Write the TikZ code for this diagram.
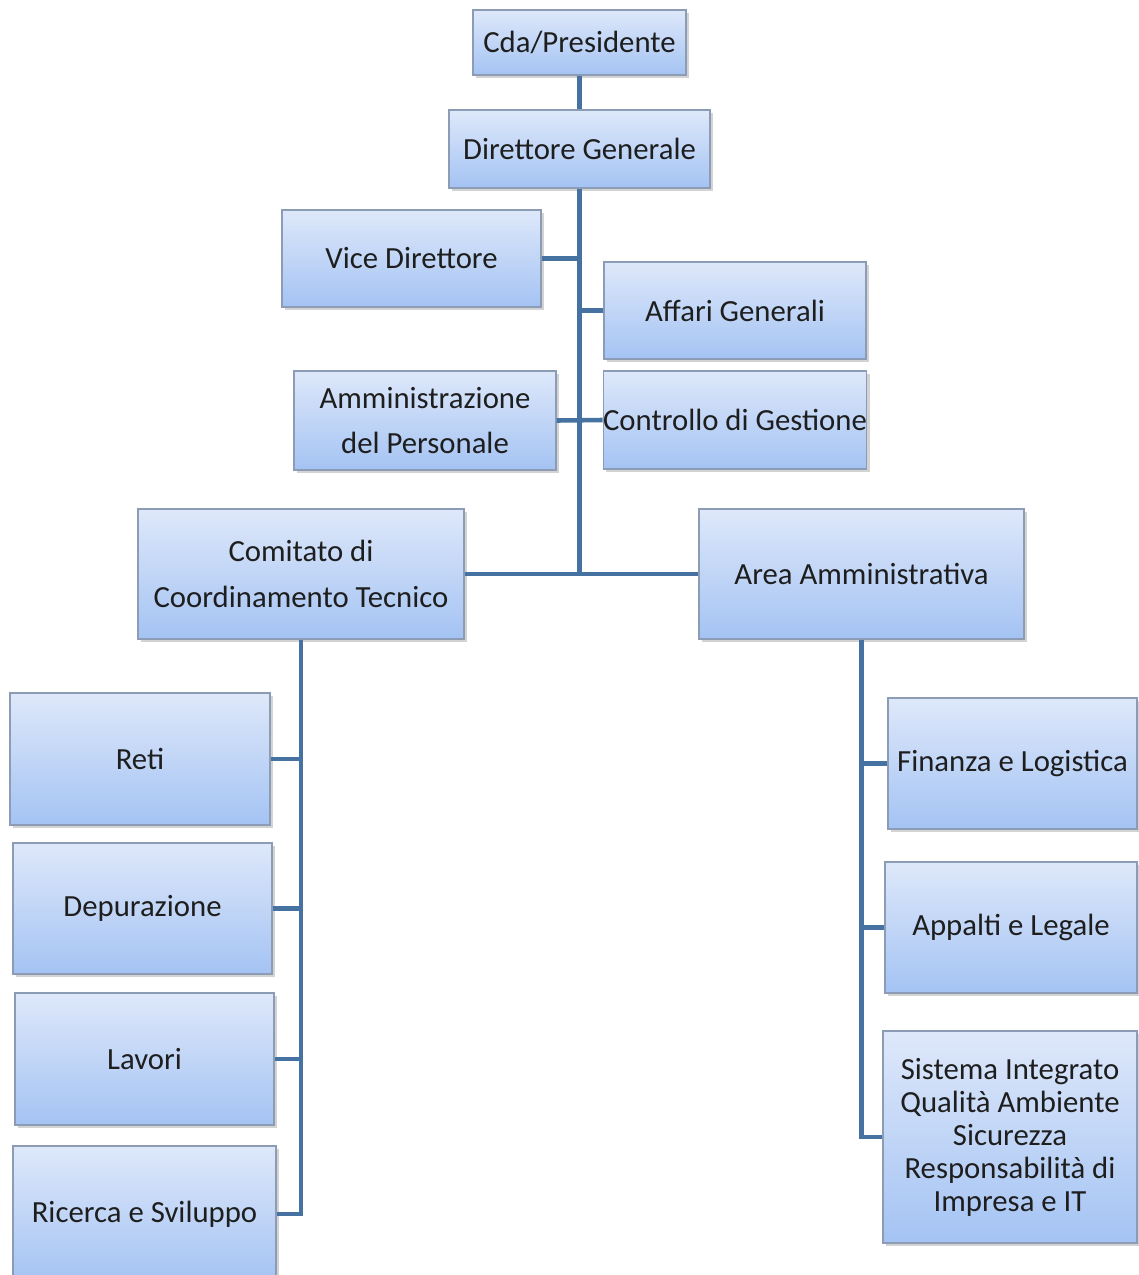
\documentclass[tikz,border=0pt]{standalone}
\usepackage{fontspec}
\setmainfont{Carlito}
\usetikzlibrary{shadows}
\definecolor{boxtop}{RGB}{222,232,250}
\definecolor{boxbot}{RGB}{164,195,243}
\definecolor{boxborder}{RGB}{140,156,180}
\definecolor{conncol}{RGB}{70,114,162}
\definecolor{textcol}{RGB}{30,30,30}
\tikzset{
  orgbox/.style={draw=boxborder, line width=0.6pt, top color=boxtop, bottom color=boxbot,
    drop shadow={shadow xshift=1.5pt, shadow yshift=-1.5pt, opacity=0.35},
    text=textcol, align=center, inner sep=0pt,
    font=\fontsize{17.5}{18.8}\selectfont},
  conn/.style={draw=conncol, line width=2.6pt, line join=miter}
}
\newcommand\obox[6]{\node[orgbox, minimum width={(#4-#2)*0.02cm}, minimum height={(#5-#3)*0.02cm}] (#1) at ({(#2+#4)/2},{(#3+#5)/2}) {#6};}
\begin{document}
\begin{tikzpicture}[x=0.02cm, y=-0.02cm]
\useasboundingbox (0,0) rectangle (1139,1275);
\obox{cda}{473}{10}{686}{75}{Cda/Presidente}
\obox{dg}{449}{110}{710}{188}{Direttore Generale}
\obox{vd}{282}{210}{541}{307}{Vice Direttore}
\obox{ag}{604}{262}{866}{359}{Affari Generali}
\obox{ap}{294}{371}{556}{470}{Amministrazione\\[6.5pt]del Personale}
\obox{cg}{604}{371}{866}{469}{Controllo di Gestione}
\obox{cct}{138}{509}{464}{639}{Comitato di\\[7pt]Coordinamento Tecnico}
\obox{ara}{699}{509}{1024}{639}{Area Amministrativa}
\obox{reti}{10}{693}{270}{825}{Reti}
\obox{dep}{13}{843}{272}{974}{Depurazione}
\obox{lav}{15}{993}{274}{1125}{Lavori}
\obox{rs}{13}{1146}{276}{1282}{Ricerca e Sviluppo}
\obox{fin}{888}{698}{1137}{829}{Finanza e Logistica}
\obox{app}{885}{862}{1137}{993}{Appalti e Legale}
\obox{sis}{883}{1031}{1137}{1243}{Sistema Integrato\\Qualità Ambiente\\Sicurezza\\Responsabilità di\\Impresa e IT}
% connectors
\draw[conn] (cda.south) -- (dg.north);
\draw[conn] (dg.south) -- (dg.south |- cct.east);
\draw[conn] (cct.east) -- (ara.west);
\draw[conn] (vd.east) -- (vd.east -| dg.south);
\draw[conn] (ag.west) -- (ag.west -| dg.south);
\draw[conn] (ap.east) -- (cg.west);
\draw[conn] (cct.south) -- (cct.south |- rs.east) -- (rs.east);
\draw[conn] (reti.east) -- (reti.east -| cct.south);
\draw[conn] (dep.east) -- (dep.east -| cct.south);
\draw[conn] (lav.east) -- (lav.east -| cct.south);
\draw[conn] (ara.south) -- (ara.south |- sis.west) -- (sis.west);
\draw[conn] (fin.west) -- (fin.west -| ara.south);
\draw[conn] (app.west) -- (app.west -| ara.south);
\end{tikzpicture}
\end{document}
